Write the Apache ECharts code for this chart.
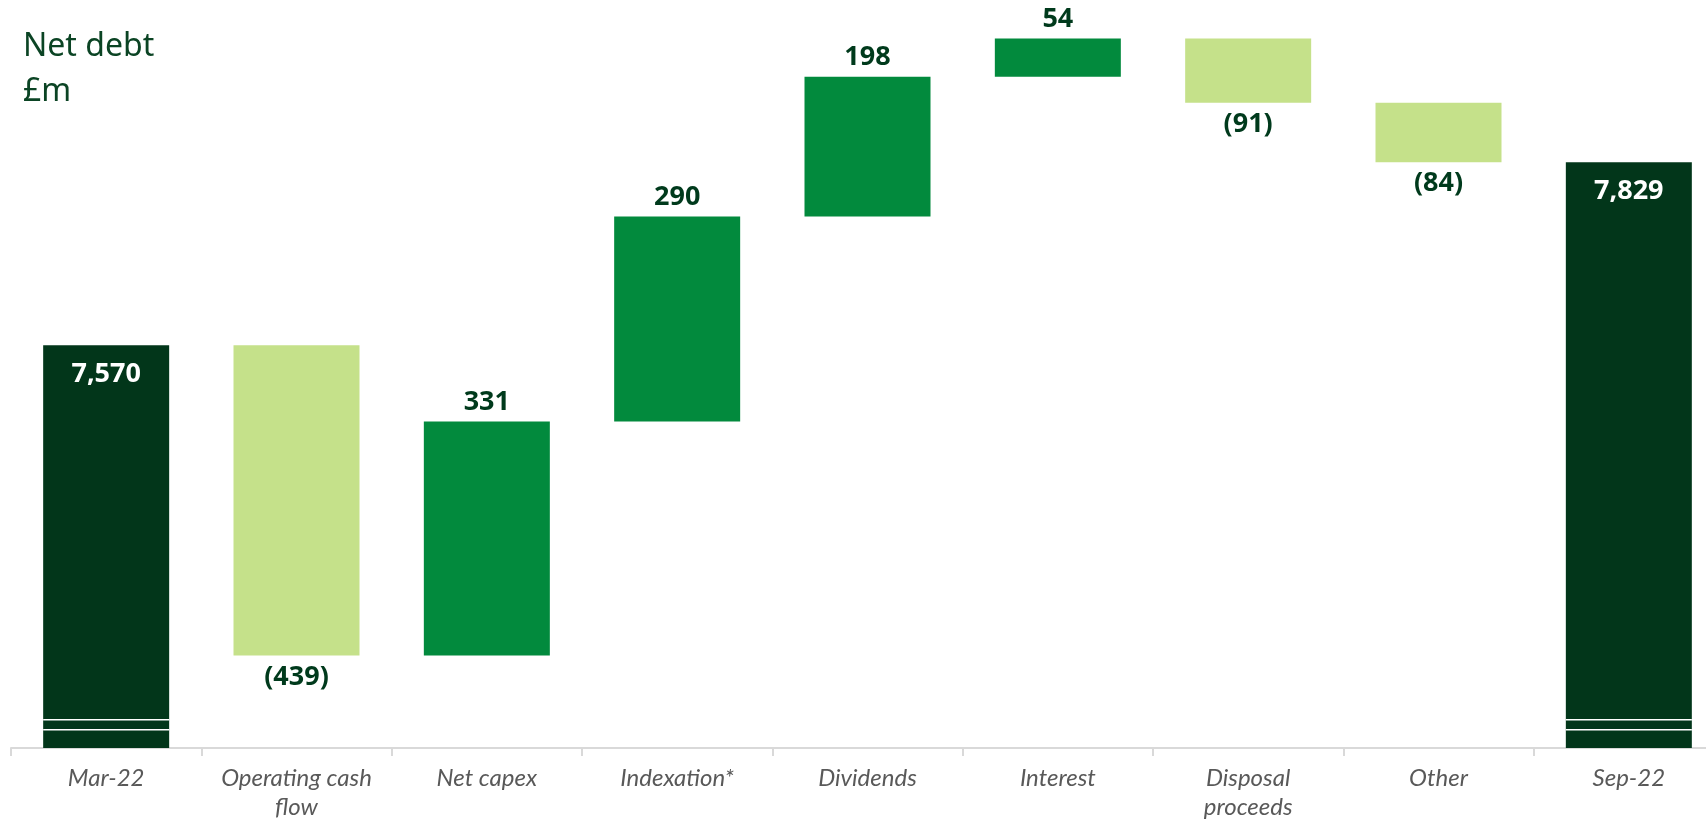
<!DOCTYPE html>
<html>
<head>
<meta charset="utf-8">
<script src="https://cdn.jsdelivr.net/npm/echarts@6/dist/echarts.min.js"></script>
<style>
  html, body { margin: 0; padding: 0; background: #ffffff; }
  #chart { width: 1706px; height: 821px; }
</style>
</head>
<body>
<div id="chart"></div>
<script>
// Net debt bridge, £m
const categories = ['Mar-22', 'Operating cash\nflow', 'Net capex', 'Indexation*', 'Dividends', 'Interest', 'Disposal\nproceeds', 'Other', 'Sep-22'];
const totals = [7570, null, null, null, null, null, null, null, 7829];
const changes = [null, -439, 331, 290, 198, 54, -91, -84, null];
// Values at which the axis-break strokes cross the two total bars
const breakValues = [7040, 7026];

const DARK = '#02361A';
const MID = '#028A3D';
const LIGHT = '#C5E18A';
const LABEL = '#003A1C';

// Running position of the bridge
const base = [], totalBar = [], upBar = [], downBar = [];
let level = 0;
categories.forEach((c, i) => {
  if (totals[i] != null) {
    level = totals[i];
    base.push(0);
    totalBar.push(totals[i]);
    upBar.push(null);
    downBar.push(null);
  } else {
    const d = changes[i];
    const next = level + d;
    base.push(Math.min(level, next));
    totalBar.push(null);
    upBar.push(d > 0 ? d : null);
    downBar.push(d < 0 ? -d : null);
    level = next;
  }
});

const fmt = n => n.toLocaleString('en-GB');
const valueFont = { fontFamily: 'Open Sans', fontWeight: 'bold', fontSize: 27 };

const chart = echarts.init(document.getElementById('chart'), null, { renderer: 'canvas' });
chart.setOption({
  animation: false,
  backgroundColor: '#ffffff',
  title: {
    text: 'Net debt\n£m',
    left: 18,
    top: 19,
    textStyle: { fontFamily: 'Noto Sans', fontWeight: 'normal', fontSize: 32, lineHeight: 45, color: '#0B4424' }
  },
  // the plot runs a little past the right edge of the page
  grid: { left: 11, top: 6, width: 1713, height: 742, containLabel: false, outerBoundsMode: 'none' },
  xAxis: {
    type: 'category',
    data: categories,
    axisLine: { lineStyle: { color: '#D9D9D9', width: 2 } },
    axisTick: { show: true, interval: 0, length: 8, lineStyle: { color: '#D9D9D9', width: 2 } },
    axisLabel: {
      interval: 0, margin: 16,
      fontFamily: 'Lato', fontStyle: 'italic', fontSize: 24, lineHeight: 29, color: '#595959'
    }
  },
  yAxis: { type: 'value', min: 7000, max: 8050, show: false, splitLine: { show: false } },
  series: [
    {
      name: 'base', type: 'bar', stack: 'bridge', barWidth: 126, silent: true,
      itemStyle: { color: 'transparent' }, data: base
    },
    {
      name: 'total', type: 'bar', stack: 'bridge', barWidth: 126,
      itemStyle: { color: DARK },
      label: { show: true, position: 'insideTop', distance: 16, color: '#ffffff', ...valueFont,
        formatter: p => fmt(p.value) },
      data: totalBar
    },
    {
      name: 'increase', type: 'bar', stack: 'bridge', barWidth: 126,
      itemStyle: { color: MID },
      label: { show: true, position: 'top', distance: 6, color: LABEL, ...valueFont,
        formatter: p => fmt(p.value) },
      data: upBar
    },
    {
      name: 'decrease', type: 'bar', stack: 'bridge', barWidth: 126,
      itemStyle: { color: LIGHT },
      label: { show: true, position: 'bottom', distance: 8, color: LABEL, ...valueFont,
        formatter: p => '(' + fmt(p.value) + ')' },
      data: downBar
    },
    {
      // axis-break strokes across the opening and closing totals
      name: 'break', type: 'custom', silent: true, z: 5,
      data: totals.map((t, i) => t != null ? [i] : null).filter(Boolean),
      renderItem: (params, api) => {
        const idx = api.value(0);
        const half = 63;
        return {
          type: 'group',
          children: breakValues.map(v => {
            const p = api.coord([idx, v]);
            return {
              type: 'line',
              shape: { x1: p[0] - half, y1: p[1], x2: p[0] + half, y2: p[1] },
              style: { stroke: '#ffffff', lineWidth: 1.5 }
            };
          })
        };
      }
    }
  ]
});
</script>
</body>
</html>
